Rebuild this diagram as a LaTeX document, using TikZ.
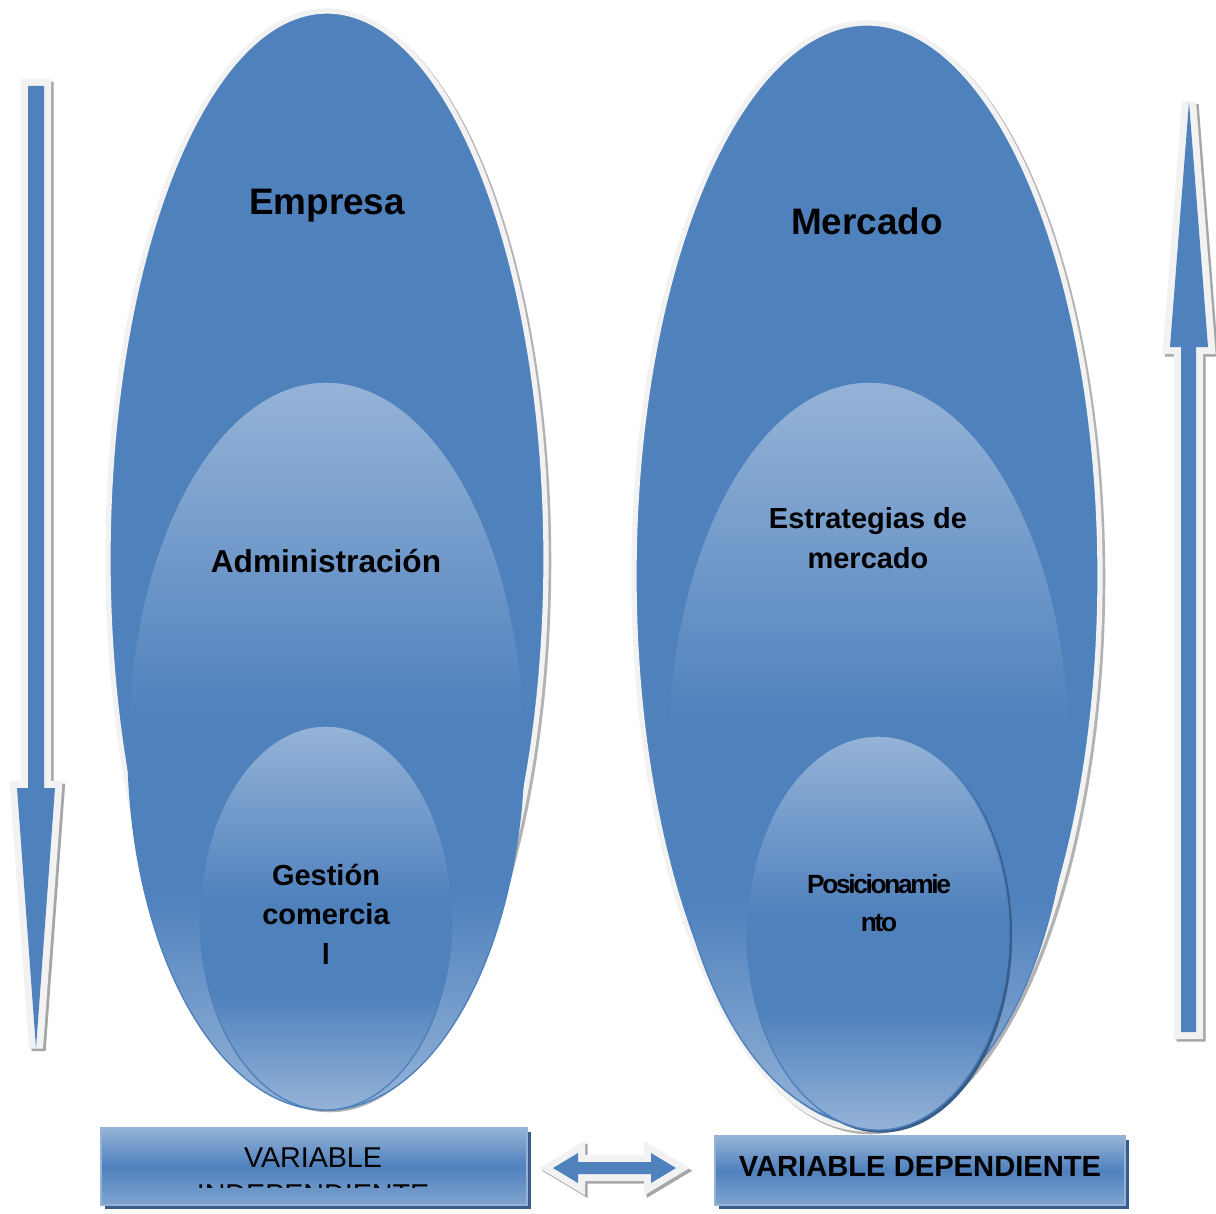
\documentclass[tikz,border=0pt]{standalone}
\usepackage{fontspec}
\setmainfont{Liberation Sans}
\usetikzlibrary{positioning}
\definecolor{azul}{HTML}{4F81BD}
\definecolor{azulclaro}{HTML}{95B3D7}
\definecolor{azuloscuro}{HTML}{385D8A}
\definecolor{borde}{HTML}{F2F2F2}
\pgfdeclareverticalshading{brillo}{100bp}{color(0bp)=(azulclaro); color(25bp)=(azulclaro); color(40bp)=(azul); color(52bp)=(azul); color(75bp)=(azulclaro); color(100bp)=(azulclaro)}
\tikzset{
  grande/.style={fill=azul, draw=borde, line width=3pt,
    preaction={draw=black!30, line width=3pt, transform canvas={shift={(1.5pt,-1.5pt)}}}},
  medio/.style={shading=brillo, draw=azul, line width=0.8pt},
  flecha/.style={fill=azul,
    preaction={draw=black!35, line width=8pt, transform canvas={shift={(1.5pt,-1.5pt)}}},
    preaction={draw=borde, line width=8pt}},
  caja/.style={top color=azulclaro, bottom color=azulclaro!70!azul, middle color=azul, draw=azulclaro, line width=1.2pt},
  titulo/.style={font=\bfseries\fontsize{21}{25}\selectfont},
  etiqueta/.style={font=\bfseries\fontsize{16.5}{22.5}\selectfont, align=center},
}
\begin{document}
\begin{tikzpicture}[x=0.02cm, y=-0.02cm]
  \useasboundingbox (0,0) rectangle (1216,1213);
  % flechas laterales
  \path[flecha] (28,86) -- (44,86) -- (44,788) -- (55,788) -- (36,1048) -- (17,788) -- (28,788) -- cycle;
  \path[flecha] (1181,1032) -- (1196,1032) -- (1196,347) -- (1208,347) -- (1189,102) -- (1170,347) -- (1181,347) -- cycle;
  % empresa
  \path[grande] (327,559) ellipse (219 and 548);
  \shade[medio] (326,746) ellipse (198 and 364);
  \shade[medio] (326,918) ellipse (126 and 192);
  % mercado
  \path[grande] (867,576) ellipse (233 and 553);
  \shade[medio] (869,753) ellipse (201 and 371);
  \shade[medio, preaction={fill=azuloscuro, transform canvas={shift={(1.8pt,-1.5pt)}}}] (878,933) ellipse (131 and 197);
  \node[titulo] (empresa) at (327,206) {Empresa};
  \node[titulo] (mercado) at (867,221) {Mercado};
  \node[etiqueta, font=\bfseries\fontsize{18}{22}\selectfont] (admin) at (326,561) {Administración};
  \node[etiqueta] (estrategias) at (868,538) {Estrategias de\\mercado};
  \node[etiqueta] (gestion) at (326,914) {Gestión\\comercia\\l};
  \node[etiqueta, font=\bfseries\fontsize{15}{21.5}\selectfont\addfontfeature{LetterSpace=-9}] (posic) at (879,903) {Posicionamie\\nto};
  % variables
  \fill[azuloscuro] (105,1132) rectangle (531,1209);
  \shade[caja] (101,1128) rectangle (527,1205);
  \begin{scope}
    \clip (101,1128) rectangle (527,1187);
    \node[align=center, font=\fontsize{16.3}{21}\selectfont] (vindep) at (313,1176) {VARIABLE\\INDEPENDIENTE};
  \end{scope}
  \fill[azuloscuro] (719,1140) rectangle (1129,1209);
  \shade[caja] (715,1136) rectangle (1125,1205);
  \node[font=\bfseries\fontsize{16.6}{20}\selectfont] (vdep) at (920,1166) {VARIABLE DEPENDIENTE};
  \path[flecha, preaction={draw=borde, line width=7pt}] (553,1168) -- (578,1153) -- (578,1162) -- (651,1162) -- (651,1153) -- (676,1168) -- (651,1183) -- (651,1174) -- (578,1174) -- (578,1183) -- cycle;
\end{tikzpicture}
\end{document}
